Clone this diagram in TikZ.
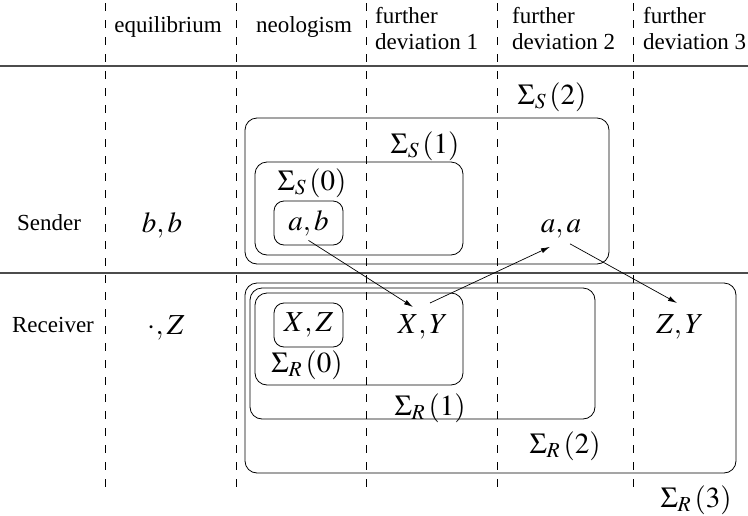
\documentclass[tikz,border=0pt]{standalone}
\usepackage{mathptmx}
\usepackage{fontspec}
\setmainfont{Liberation Serif}
\usetikzlibrary{arrows.meta}

\begin{document}
\begin{tikzpicture}[
    x=1pt, y=-1pt,
    txt/.style={font=\fontsize{23}{26}\selectfont, inner sep=0pt},
    hd/.style={txt, align=left, anchor=base west},
    mth/.style={font=\fontsize{29}{30}\selectfont, inner sep=0pt, anchor=base},
    sep/.style={dashed, dash pattern=on 8pt off 9pt, line width=0.8pt},
    rule/.style={line width=1.2pt, black!70},
    region/.style={draw, rounded corners=12pt, line width=0.8pt},
    pair/.style={mth, draw, rounded corners=10pt, line width=0.8pt,
                 minimum width=69pt, minimum height=44pt, anchor=center},
    arr/.style={-{Latex[length=9pt,width=5pt]}, line width=0.7pt},
  ]
  \useasboundingbox (0,0) rectangle (748,515);

  % -- column separators and rules
  \foreach \x in {105,236,366,497,633}
    \draw[sep] (\x,3) -- (\x,487);
  \draw[rule] (0,66) -- (748,66);
  \draw[rule] (0,273) -- (748,273);

  % -- header
  \node[txt, anchor=base] (eq) at (168,32) {equilibrium};
  \node[txt, anchor=base] (neo) at (304,32) {neologism};
  \node[hd] (dev1) at (375,49) {further\\deviation 1};
  \node[hd] (dev2) at (512,49) {further\\deviation 2};
  \node[hd] (dev3) at (643,49) {further\\deviation 3};

  % -- row labels
  \node[txt, anchor=base] (snd) at (49,230) {Sender};
  \node[txt, anchor=base] (rcv) at (53,332) {Receiver};

  % -- sender regions
  \draw[region] (245,118) rectangle (609,264);
  \draw[region] (255,162) rectangle (463,255);
  \node[mth] (sig2) at (552,104) {$\Sigma_S\,(2)$};
  \node[mth] (sig1) at (425,153) {$\Sigma_S\,(1)$};
  \node[mth] (sig0) at (312,190) {$\Sigma_S\,(0)$};
  \node[mth] (bb) at (162,232) {$b,b$};
  \node[pair] (ab) at (308.5,223) {$a,b$};
  \node[mth] (aa) at (561,232) {$a,a$};

  % -- receiver regions
  \draw[region] (245,283) rectangle (736,473);
  \draw[region] (250,288) rectangle (595,419);
  \draw[region] (255,293) rectangle (463,385);
  \node[mth] (dz) at (166,334) {$\cdot,Z$};
  \node[pair] (xz) at (308.5,325) {$X,Z$};
  \node[mth] (xy) at (423,333) {$X,Y$};
  \node[mth] (zy) at (680,333) {$Z,Y$};
  \node[mth] (rho0) at (307,372) {$\Sigma_R\,(0)$};
  \node[mth] (rho1) at (430,415) {$\Sigma_R\,(1)$};
  \node[mth] (rho2) at (565,453) {$\Sigma_R\,(2)$};
  \node[mth] (rho3) at (696,507) {$\Sigma_R\,(3)$};

  % -- deviations
  \draw[arr] ([yshift=5pt]ab.south) -- ([xshift=-10pt,yshift=7pt]xy.north);
  \draw[arr] ([xshift=7pt,yshift=11pt]xy.north) -- ([xshift=-11pt,yshift=-9pt]aa.south);
  \draw[arr] ([xshift=9pt,yshift=-6pt]aa.south) -- ([xshift=-3pt,yshift=11pt]zy.north);

\end{tikzpicture}
\end{document}
